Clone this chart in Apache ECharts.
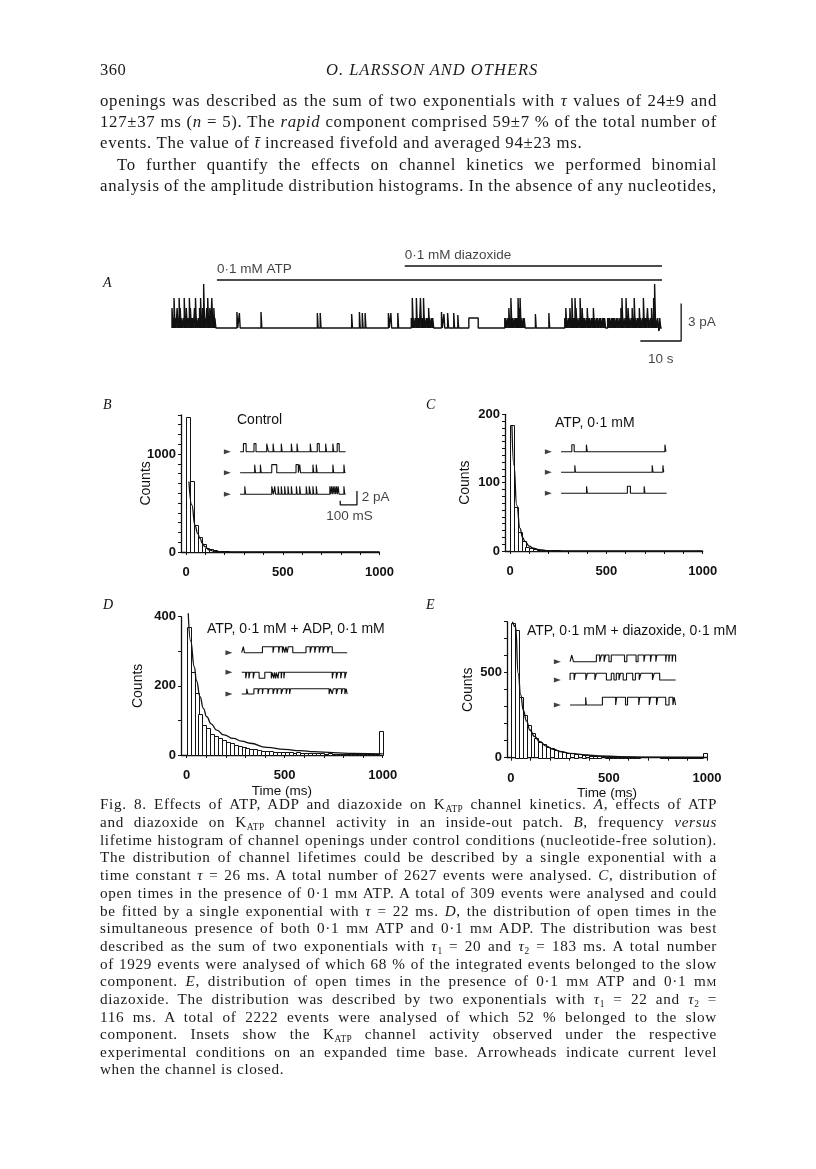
<!DOCTYPE html>
<html><head><meta charset="utf-8">
<script src="https://cdn.jsdelivr.net/npm/echarts@6/dist/echarts.min.js"></script>
<style>
html,body{margin:0;padding:0;background:#fff;}
#page{position:relative;width:816px;height:1169px;overflow:hidden;background:#fff;}
#chart{position:absolute;left:0;top:0;width:816px;height:1169px;}
.t{position:absolute;left:100px;width:617px;font-family:'Liberation Serif','Times New Roman',serif;color:#1a1a1a;z-index:2;white-space:nowrap;}
.b{font-size:16.8px;line-height:20px;height:20px;letter-spacing:0.7px;}
.c{font-size:15.2px;line-height:18px;height:18px;letter-spacing:0.65px;}
.sc{font-variant:small-caps;}
sub{font-size:0.62em;vertical-align:-0.3em;line-height:0;letter-spacing:0.3px;}
.hd{position:absolute;font-family:'Liberation Serif','Times New Roman',serif;font-size:16.5px;color:#1a1a1a;line-height:18px;z-index:2;white-space:nowrap;}
</style></head>
<body><div id="page">
<div id="chart"></div>
<div class="hd" style="left:100px;top:61px;letter-spacing:0.5px;">360</div>
<div class="hd" style="left:326px;top:61px;font-style:italic;letter-spacing:1.0px;">O. LARSSON AND OTHERS</div>

<div class="t b j" style="top:91px"><span>openings was described as the sum of two exponentials with <i>τ</i> values of 24±9 and</span></div>
<div class="t b j" style="top:112px"><span>127±37 ms (<i>n</i> = 5). The <i>rapid</i> component comprised 59±7 % of the total number of</span></div>
<div class="t b" style="top:133px"><span>events. The value of <i>t̄</i> increased fivefold and averaged 94±23 ms.</span></div>
<div class="t b j" style="top:155px;left:117px;width:600px"><span>To further quantify the effects on channel kinetics we performed binomial</span></div>
<div class="t b j" style="top:176px"><span>analysis of the amplitude distribution histograms. In the absence of any nucleotides,</span></div>

<div class="t c j" style="top:795px"><span>Fig. 8. Effects of ATP, ADP and diazoxide on K<sub>ATP</sub> channel kinetics. <i>A</i>, effects of ATP</span></div>
<div class="t c j" style="top:813px"><span>and diazoxide on K<sub>ATP</sub> channel activity in an inside-out patch. <i>B</i>, frequency <i>versus</i></span></div>
<div class="t c j" style="top:831px"><span>lifetime histogram of channel openings under control conditions (nucleotide-free solution).</span></div>
<div class="t c j" style="top:848px"><span>The distribution of channel lifetimes could be described by a single exponential with a</span></div>
<div class="t c j" style="top:866px"><span>time constant <i>τ</i> = 26 ms. A total number of 2627 events were analysed. <i>C</i>, distribution of</span></div>
<div class="t c j" style="top:884px"><span>open times in the presence of 0·1 m<span class="sc">m</span> ATP. A total of 309 events were analysed and could</span></div>
<div class="t c j" style="top:902px"><span>be fitted by a single exponential with <i>τ</i> = 22 ms. <i>D</i>, the distribution of open times in the</span></div>
<div class="t c j" style="top:919px"><span>simultaneous presence of both 0·1 m<span class="sc">m</span> ATP and 0·1 m<span class="sc">m</span> ADP. The distribution was best</span></div>
<div class="t c j" style="top:937px"><span>described as the sum of two exponentials with <i>τ</i><sub>1</sub> = 20 and <i>τ</i><sub>2</sub> = 183 ms. A total number</span></div>
<div class="t c j" style="top:955px"><span>of 1929 events were analysed of which 68 % of the integrated events belonged to the slow</span></div>
<div class="t c j" style="top:972px"><span>component. <i>E</i>, distribution of open times in the presence of 0·1 m<span class="sc">m</span> ATP and 0·1 m<span class="sc">m</span></span></div>
<div class="t c j" style="top:990px"><span>diazoxide. The distribution was described by two exponentials with <i>τ</i><sub>1</sub> = 22 and <i>τ</i><sub>2</sub> =</span></div>
<div class="t c j" style="top:1008px"><span>116 ms. A total of 2222 events were analysed of which 52 % belonged to the slow</span></div>
<div class="t c j" style="top:1025px"><span>component. Insets show the K<sub>ATP</sub> channel activity observed under the respective</span></div>
<div class="t c j" style="top:1043px"><span>experimental conditions on an expanded time base. Arrowheads indicate current level</span></div>
<div class="t c" style="top:1060px"><span>when the channel is closed.</span></div>
</div>
<script>
// justify each full line by adjusting word spacing
document.querySelectorAll('.j').forEach(div=>{
  const sp = div.firstElementChild;
  const target = div.clientWidth;
  const w = sp.getBoundingClientRect().width;
  const n = (sp.textContent.match(/ /g)||[]).length;
  if(n>0) sp.style.wordSpacing = ((target - w)/n) + 'px';
});
</script>
<script>
// ---------------- DATA ----------------
const binWidth = 20; // ms
const histXTicks = [0,100,200,300,400,500,600,700,800,900,1000];
const histXLabels = [0,500,1000];

const countsB = [1380,720,280,150,85,45,28,18,12,8, 6,5,4,3,3,2,2,2,1,1, 1,1,1,1,1,1,0,1,0,1, 0,0,1,0,0,0,1,0,0,0, 0,1,0,0,0,0,0,0,0,0];
const fitB = [[15,720],[30,480],[46,275],[60,190],[72,140],[85,85],[98,54],[120,22],[141,8],[180,2],[250,0.5],[400,0],[1000,0]];
const yTicksB = [0,100,200,300,400,500,600,700,800,900,1000,1100,1200,1300,1400];
const yLabelsB = [0,1000];

const countsC = [184,65,28,14,6,4,3,2,1,1, 0,2,1,0,0,0,0,0,0,0, 0,0,0,0,0,0,0,0,0,0, 0,0,0,0,0,0,0,0,0,0, 0,0,0,0,0,0,0,0,0,0];
const fitC = [[10,184],[20,126],[35,67],[52,33],[65,20],[78,14],[100,7],[121,4],[150,2],[200,0.5],[300,0],[1000,0]];
const yTicksC = [0,10,20,30,40,50,60,70,80,90,100,110,120,130,140,150,160,170,180,190,200];
const yLabelsC = [0,100,200];

const countsD = [370,241,178,120,87,77,61,56,48,43, 37,34,29,26,22,19,17,16,14,13, 12,11,10,10,9,9,8,7,8,6, 6,7,5,6,5,4,5,4,4,3, 4,3,3,4,3,2,3,2,2,70];
const fitD = [[8,410],[20,330],[39,255],[50,215],[68,169],[85,135],[102,111],[125,90],[153,72],[190,58],[238,48],[280,40],[323,34],[408,22],[500,16],[578,12.5],[650,9.5],[748,6.7],[850,4.5],[1000,3]];
const yTicksD = [0,100,200,300,400];
const yLabelsD = [0,200,400];

const countsE = [790,750,360,250,190,143,114,94,80,65, 55,45,39,33,29,25,22,19,16,14, 12,10,9,8,7,6,5,5,4,4, 3,3,3,2,2,2,2,2,1,1, 1,1,1,1,1,1,1,1,1,25];
const fitE = [[8,800],[24,770],[37,496],[50,370],[63,280],[80,215],[97,163],[120,125],[148,94],[180,68],[216,49],[260,35],[300,25],[385,16],[450,11],[555,6],[700,3.5],[1000,2]];
const yTicksE = [0,100,200,300,400,500,600,700,800];
const yLabelsE = [0,500];

// Panel A: long recording (s), levels in number of open channels
const drugNames = ['0·1 mM ATP','0·1 mM diazoxide'];
const drugStart = [11, 57];
const drugEnd = [120, 120];
const traceABursts = [
  [0, 0.25, [2,1,3,1,0,2,1,3,2,1,0,1,3,1,2,0,1,3,2,1,1,0,2,3,1,0,1,2,3,1,2,4.4,1,0,2,3,1,2,0,3,1,2,1,0]],
  [58.6, 0.25, [1,3,1,0,1,3,1,1,0,3,1,1,3,1,0,1,1,2,1,0,1,1]],
  [81.5, 0.25, [1,1,0,1,2,1,3,1,1,0,1,1,1,3,2,3,1,0,1,1,0]],
  [96.2, 0.25, [1,2,1,0,1,2,1,3,1,1,3,2,1,0,1,3,1,2,1,1,0,1,2,1,1,0,1,1,2,1,0,1,1,0]],
  [104.7, 0.25, [1,1,0,1,1,1,0,0,1,1,1,0,1,1,1,1,0,1]],
  [109.2, 0.25, [1,0,1,2,3,1,0,1,3,1,2,1,0,1,2,1,3,1,0,1,1,2,1,0,1,3,1,1,0,2,1,0,1,2,1,3,4.4,1,0,1,-0.3,1,0]]
];
const traceASpikes = [
  [15.9,0.2,1.6],[16.5,0.2,1.5],[21.8,0.2,1.6],[35.6,0.2,1.5],[36.3,0.2,1.5],[44.0,0.2,1.4],
  [45.9,0.2,1.6],[46.6,0.2,1.5],[47.3,0.2,1.5],[53.0,0.2,1.5],[53.6,0.2,1.5],[55.3,0.2,1.5],
  [66.0,0.2,1.6],[66.6,0.2,1.4],[67.5,0.25,1.5],[69.0,0.2,1.5],[70.0,0.2,1.3],[72.7,2.3,1],
  [89.0,0.2,1.4],[92.3,0.2,1.5]
];
const unitCurrentA = 0.8; // pA per channel
const traceAEnd = 120;
const scaleA = {sec: 10, pA: 3};

// Insets: open intervals [start, end] in ms
const insetB = [
  [[20,36],[83,95],[159,169],[197,202],[246,251],[306,311],[340,345],[419,424],[461,473],[511,516],[554,559],[580,592]],
  [[87,92],[121,126],[189,219],[334,348],[356,361],[435,440],[455,460],[554,559],[620,625]],
  [[28,33],[189,199],[207,212],[227,232],[246,251],[266,271],[286,291],[306,311],[336,341],[356,361],[395,400],[413,421],[435,440],[455,460],[536,541],[546,551],[556,561],[566,571],[576,581],[586,591],[620,625]]
];
const insetC = [
  [[64,78],[151,156],[620,626]],
  [[82,86],[544,549],[608,613]],
  [[152,157],[396,414],[496,501]]
];
const insetD = [
  [[10,16],[124,187],[193,221],[226,243],[248,258],[264,272],[278,305],[384,409],[417,436],[443,463],[471,486],[494,514],[522,541]],
  [[24,30],[43,49],[69,75],[104,138],[177,181],[191,195],[203,207],[217,221],[236,240],[252,256],[541,547],[565,573],[591,597],[616,624]],
  [[30,37],[73,98],[104,124],[128,157],[163,187],[195,211],[217,236],[246,266],[272,286],[292,522],[530,541],[547,565],[573,596],[602,616],[624,630]]
];
const insetE = [
  [[10,20],[157,177],[187,203],[211,232],[246,325],[339,394],[406,441],[447,480],[486,512],[518,571],[575,590],[594,610],[614,630]],
  [[0,24],[31,94],[103,148],[157,217],[246,262],[276,292],[300,317],[337,374],[390,413],[423,492],[502,535]],
  [[93,97],[193,272],[278,331],[343,410],[416,473],[480,516],[524,571],[591,614],[622,630]]
];
const insetEnds = {B:[630,630,630], C:[630,615,630], D:[630,630,630], E:[630,630,630]};
const scaleInset = {ms: 100, pA: 2};

const titles = {B:'Control', C:'ATP, 0·1 mM', D:'ATP, 0·1 mM + ADP, 0·1 mM', E:'ATP, 0·1 mM + diazoxide, 0·1 mM'};

// ---------------- BUILD ----------------
const FONT = "'Liberation Sans', Arial, Helvetica, sans-serif";
const INK = '#111';
const grids=[], xAxes=[], yAxes=[], series=[];
function addGrid(g, x, y){ grids.push(g); const gi=grids.length-1; x.gridIndex=gi; y.gridIndex=gi; xAxes.push(x); yAxes.push(y); return gi; }
function textPoint(gi, x, y, text, align, fs, weight){
  series.push({type:'scatter', xAxisIndex:gi, yAxisIndex:gi, data:[[x,y]], symbolSize:1, silent:true, z:6, clip:false,
    itemStyle:{color:'rgba(0,0,0,0)'},
    label:{show:true, position:'inside', formatter:text, align:align||'center', verticalAlign:'middle',
      fontFamily:FONT, fontSize:fs||13, fontWeight:weight||'normal', color:INK}});
}

// Panel A
const gA = addGrid({left:172, top:255, width:530.8, height:113},
  {type:'value', min:0, max:130, show:false},
  {type:'value', min:-3.2, max:5.84, show:false});
(function(){
  function pulses(items){
    const pts=[[0,0]];
    items.forEach(([t,d,l])=>{ const y=l*unitCurrentA; pts.push([t,0],[t,y],[t+d,y],[t+d,0]); });
    pts.push([traceAEnd,0]);
    return pts;
  }
  const burstItems=[];
  traceABursts.forEach(([s,dt,lv])=>lv.forEach((l,i)=>burstItems.push([s+i*dt, dt, l])));
  const all = burstItems.concat(traceASpikes).sort((a,b)=>a[0]-b[0]);
  // dense bursts filled (unresolved flicker), full trace drawn as a line
  series.push({type:'line', xAxisIndex:gA, yAxisIndex:gA, data:pulses(burstItems), showSymbol:false, clip:false,
    lineStyle:{width:0, opacity:0}, areaStyle:{color:INK, opacity:0.88, origin:0}, silent:true, z:2});
  series.push({type:'line', xAxisIndex:gA, yAxisIndex:gA, data:pulses(all), showSymbol:false, clip:false,
    lineStyle:{color:INK, width:1.4}, silent:true, z:3});
})();
const drugBarY = [3.84, 4.96];
drugNames.forEach((nm,i)=>{
  series.push({type:'line', xAxisIndex:gA, yAxisIndex:gA, data:[[drugStart[i],drugBarY[i]],[drugEnd[i],drugBarY[i]]],
    showSymbol:false, clip:false, lineStyle:{color:INK, width:1.6}, silent:true});
  textPoint(gA, drugStart[i], drugBarY[i]+0.85, nm, 'left', 13.5);
});
(function(){
  const x1 = 124.7, y0 = -1.04;
  series.push({type:'line', xAxisIndex:gA, yAxisIndex:gA, clip:false, showSymbol:false, silent:true,
    data:[[x1-scaleA.sec,y0],[x1,y0],[x1,y0+scaleA.pA]], lineStyle:{color:INK,width:1.3}});
  textPoint(gA, x1+1.7, y0+scaleA.pA/2, scaleA.pA+' pA', 'left', 13.5);
  textPoint(gA, x1-scaleA.sec/2, y0-1.5, scaleA.sec+' s', 'center', 13.5);
})();

// Histograms
const plain = v => String(v);
function hist(cfg){
  const gi = addGrid({left:cfg.left, top:cfg.top, width:cfg.width, height:cfg.height},
    {type:'value', min:cfg.xmin, max:1000,
      axisLine:{show:true, onZero:false, lineStyle:{color:INK, width:1.3}},
      axisTick:{show:true, length:3, customValues:histXTicks, lineStyle:{color:INK, width:1}},
      axisLabel:{show:true, customValues:histXLabels, formatter:plain, margin:14, fontFamily:FONT, fontSize:13, fontWeight:'bold', color:INK},
      splitLine:{show:false},
      name:cfg.xName||'', nameLocation:'middle', nameGap:29, nameMoveOverlap:false,
      nameTextStyle:{fontFamily:FONT, fontSize:13.5, color:INK}},
    {type:'value', min:0, max:cfg.ymax,
      axisLine:{show:true, onZero:false, lineStyle:{color:INK, width:1.3}},
      axisTick:{show:true, length:3, customValues:cfg.yTicks, lineStyle:{color:INK, width:1}},
      axisLabel:{show:true, customValues:cfg.yLabels, formatter:plain, margin:5, fontFamily:FONT, fontSize:13, fontWeight:'bold', color:INK},
      splitLine:{show:false},
      name:'Counts', nameLocation:'middle', nameRotate:90, nameGap:cfg.nameGap, nameMoveOverlap:false,
      nameTextStyle:{fontFamily:FONT, fontSize:14, color:INK}});
  series.push({type:'custom', xAxisIndex:gi, yAxisIndex:gi, silent:true, z:2,
    data: cfg.counts.map((c,i)=>[i*binWidth,(i+1)*binWidth,c]),
    encode:{x:[0,1], y:2},
    renderItem:(params, api)=>{
      const c = api.value(2); if(!c) return null;
      const p0 = api.coord([api.value(0), c]); const p1 = api.coord([api.value(1), 0]);
      return {type:'rect', shape:{x:Math.round(p0[0])+0.5, y:Math.round(p0[1])+0.5, width:Math.max(1,Math.round(p1[0]-p0[0])), height:Math.round(p1[1]-p0[1])},
        style:{fill:'#fff', stroke:INK, lineWidth:1}};
    }});
  series.push({type:'line', xAxisIndex:gi, yAxisIndex:gi, data:cfg.fit, showSymbol:false, smooth:true, smoothMonotone:'x',
    clip:false, silent:true, z:4, lineStyle:{color:INK, width:1.3}});
  return gi;
}
hist({left:181, top:414.8, width:198.5, height:137.2, xmin:-26, ymax:1400, yTicks:yTicksB, yLabels:yLabelsB, counts:countsB, fit:fitB, nameGap:28});
hist({left:505, top:414.3, width:197.7, height:136.7, xmin:-26, ymax:200, yTicks:yTicksC, yLabels:yLabelsC, counts:countsC, fit:fitC, nameGap:33});
hist({left:181, top:616.7, width:201.7, height:138.3, xmin:-29, ymax:400, yTicks:yTicksD, yLabels:yLabelsD, counts:countsD, fit:fitD, nameGap:36, xName:'Time (ms)'});
hist({left:507, top:621.7, width:200, height:136, xmin:-20, ymax:800, yTicks:yTicksE, yLabels:yLabelsE, counts:countsE, fit:fitE, nameGap:32, xName:'Time (ms)'});

// Insets
function inset(cfg){
  const gi = addGrid({left:cfg.left, top:cfg.top, width:137.3, height:80},
    {type:'value', min:-120, max:700, show:false},
    {type:'value', min:cfg.ymin, max:cfg.ymin+11.43, show:false});
  cfg.traces.forEach((iv,k)=>{
    const base = cfg.bases[k], amp = cfg.amps[k];
    const pts=[[0,base]];
    iv.forEach(([s,e])=>pts.push([s,base],[s,base+amp],[e,base+amp],[e,base]));
    pts.push([cfg.ends[k],base]);
    series.push({type:'line', xAxisIndex:gi, yAxisIndex:gi, data:pts, showSymbol:false, clip:false, silent:true,
      lineStyle:{color:INK, width:1.1}});
  });
  series.push({type:'scatter', xAxisIndex:gi, yAxisIndex:gi, silent:true, clip:false,
    data: cfg.bases.map(b=>[-76,b]), symbol:'triangle', symbolRotate:-90, symbolSize:[5,7], itemStyle:{color:INK}});
  return gi;
}
const giB = inset({left:220, top:440, ymin:-9.76, traces:insetB, bases:[0,-3,-6.09], amps:[1.15,1.15,1.15], ends:insetEnds.B});
inset({left:541, top:440, ymin:-9.76, traces:insetC, bases:[0,-2.94,-5.94], amps:[1.0,1.0,1.0], ends:insetEnds.C});
inset({left:221.6, top:635, ymin:-8.9, traces:insetD, bases:[0,-2.8,-5.9], amps:[0.86,-0.86,0.75], ends:insetEnds.D});
inset({left:550, top:640, ymin:-8.33, traces:insetE, bases:[0,-2.61,-6.19], amps:[0.95,0.95,1.1], ends:insetEnds.E});
(function(){
  const x1 = 698, y0 = -7.61;
  series.push({type:'line', xAxisIndex:giB, yAxisIndex:giB, clip:false, showSymbol:false, silent:true,
    data:[[x1-scaleInset.ms,y0+0.6],[x1-scaleInset.ms,y0],[x1,y0],[x1,y0+scaleInset.pA]], lineStyle:{color:INK,width:1.3}});
  textPoint(giB, x1+28, y0+scaleInset.pA/2+0.05, scaleInset.pA+' pA', 'left', 13.5);
  textPoint(giB, x1-scaleInset.ms/2+5, y0-1.6, scaleInset.ms+' mS', 'center', 13.5);
})();

const letterStyle = {fontFamily:"'Liberation Serif','Times New Roman',serif", fontStyle:'italic', fontSize:14, fill:INK};
const titleStyle = {fontFamily:FONT, fontSize:14, fill:INK};
const graphic = [
  {type:'text', left:103, top:276, style:Object.assign({text:'A'}, letterStyle)},
  {type:'text', left:103, top:398, style:Object.assign({text:'B'}, letterStyle)},
  {type:'text', left:426, top:398, style:Object.assign({text:'C'}, letterStyle)},
  {type:'text', left:103, top:598, style:Object.assign({text:'D'}, letterStyle)},
  {type:'text', left:426, top:598, style:Object.assign({text:'E'}, letterStyle)},
  {type:'text', left:237, top:413, style:Object.assign({text:titles.B}, titleStyle)},
  {type:'text', left:555, top:416, style:Object.assign({text:titles.C}, titleStyle)},
  {type:'text', left:207, top:622, style:Object.assign({text:titles.D}, titleStyle)},
  {type:'text', left:527, top:624, style:Object.assign({text:titles.E}, titleStyle)}
];

const chart = echarts.init(document.getElementById('chart'), null, {renderer:'canvas'});
chart.setOption({animation:false, backgroundColor:'#fff', grid:grids, xAxis:xAxes, yAxis:yAxes, series:series, graphic:graphic});
</script>
</body></html>
